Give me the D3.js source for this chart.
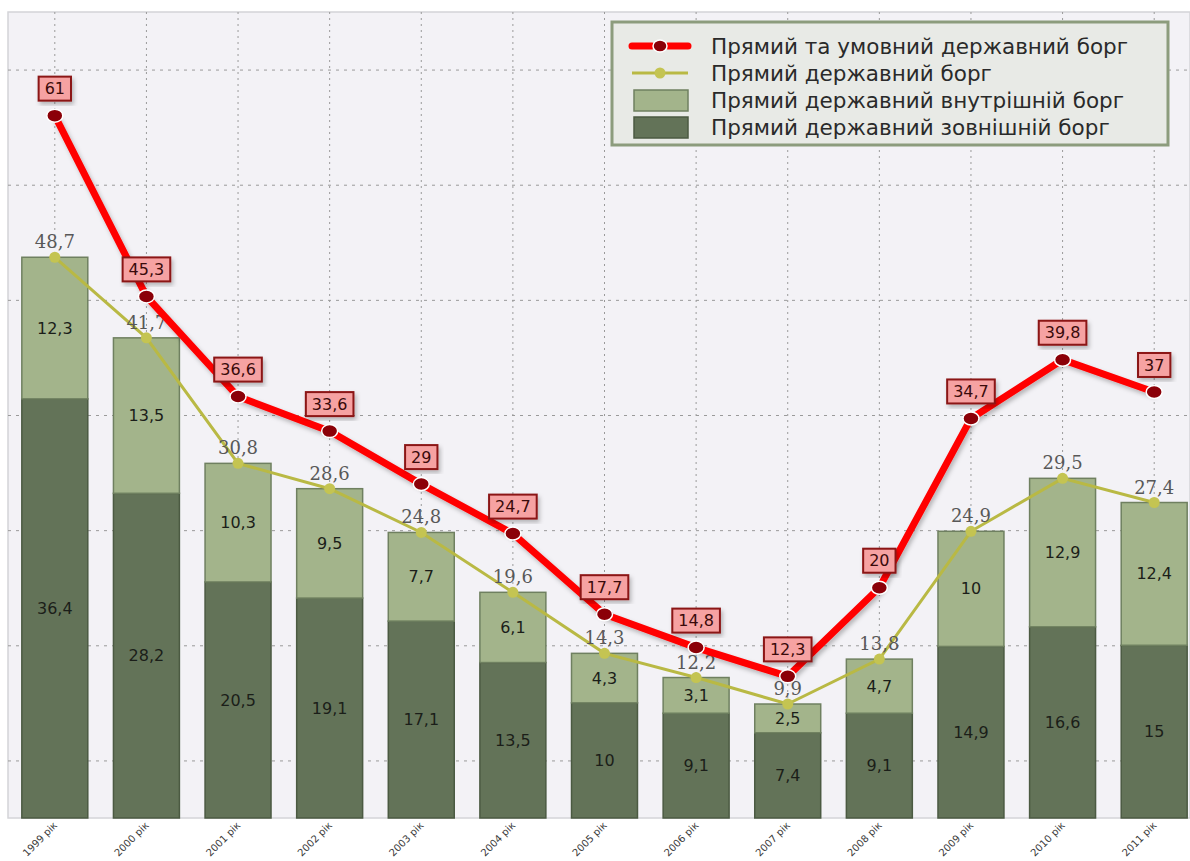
<!DOCTYPE html>
<html>
<head>
<meta charset="utf-8">
<script src="https://cdn.jsdelivr.net/npm/d3@7"></script>
<style>
  body { margin: 0; background: #fff; }
  svg { display: block; }
</style>
</head>
<body>
<div id="chart"></div>
<script>
const years = ['1999 рік', '2000 рік', '2001 рік', '2002 рік', '2003 рік', '2004 рік', '2005 рік',
  '2006 рік', '2007 рік', '2008 рік', '2009 рік', '2010 рік', '2011 рік'];
const externalDebt = [36.4, 28.2, 20.5, 19.1, 17.1, 13.5, 10, 9.1, 7.4, 9.1, 14.9, 16.6, 15];
const internalDebt = [12.3, 13.5, 10.3, 9.5, 7.7, 6.1, 4.3, 3.1, 2.5, 4.7, 10, 12.9, 12.4];
const directDebt = [48.7, 41.7, 30.8, 28.6, 24.8, 19.6, 14.3, 12.2, 9.9, 13.8, 24.9, 29.5, 27.4];
const totalDebt = [61, 45.3, 36.6, 33.6, 29, 24.7, 17.7, 14.8, 12.3, 20, 34.7, 39.8, 37];
const gridValues = [5, 15, 25, 35, 45, 55, 65];
const legendLabels = ['Прямий та умовний державний борг', 'Прямий державний борг',
  'Прямий державний внутрішній борг', 'Прямий державний зовнішній борг'];

const W = 1190, H = 861;
const plot = { left: 8, top: 12, right: 1190, bottom: 818 };
const sans = 'DejaVu Sans, Verdana, sans-serif';
const fmt = (v) => String(v).replace('.', ',');

const svg = d3.select('#chart').append('svg')
  .attr('width', W)
  .attr('height', H);

const x = d3.scaleBand()
  .domain(years)
  .range([9, 1200])
  .paddingInner(0.28)
  .paddingOuter(0.14);

const y = d3.scaleLinear()
  .domain([0, 70])
  .range([plot.bottom, plot.top]);

const cx = (i) => x(years[i]) + x.bandwidth() / 2;

// plot background
svg.append('rect')
  .attr('x', plot.left)
  .attr('y', plot.top)
  .attr('width', plot.right - plot.left)
  .attr('height', plot.bottom - plot.top)
  .attr('fill', '#f3f2f6')
  .attr('stroke', '#d4d4d8')
  .attr('stroke-width', 1.5);

// horizontal grid
const yGrid = svg.append('g')
  .attr('transform', `translate(${plot.left},0)`)
  .call(d3.axisLeft(y).tickValues(gridValues).tickSize(-(plot.right - plot.left)).tickFormat(''));
yGrid.select('.domain').remove();
yGrid.selectAll('line')
  .attr('stroke', '#9a9a9a')
  .attr('stroke-dasharray', '3,5');

// vertical grid
svg.append('g')
  .selectAll('line')
  .data(years)
  .join('line')
  .attr('x1', (d, i) => cx(i))
  .attr('x2', (d, i) => cx(i))
  .attr('y1', plot.top)
  .attr('y2', plot.bottom)
  .attr('stroke', '#9a9a9a')
  .attr('stroke-dasharray', '2,4');

// stacked bars
const bars = svg.append('g');
bars.selectAll('rect.ext')
  .data(externalDebt)
  .join('rect')
  .attr('class', 'ext')
  .attr('x', (d, i) => x(years[i]))
  .attr('width', x.bandwidth())
  .attr('y', (d) => y(d))
  .attr('height', (d) => y(0) - y(d))
  .attr('fill', '#637358')
  .attr('stroke', '#4b5a42')
  .attr('stroke-width', 1.5);

bars.selectAll('rect.int')
  .data(internalDebt)
  .join('rect')
  .attr('class', 'int')
  .attr('x', (d, i) => x(years[i]))
  .attr('width', x.bandwidth())
  .attr('y', (d, i) => y(externalDebt[i] + d))
  .attr('height', (d, i) => y(externalDebt[i]) - y(externalDebt[i] + d))
  .attr('fill', '#a3b48b')
  .attr('stroke', '#6f8060')
  .attr('stroke-width', 1.5);

bars.selectAll('text.ext')
  .data(externalDebt)
  .join('text')
  .attr('class', 'ext')
  .attr('x', (d, i) => cx(i))
  .attr('y', (d) => y(d / 2))
  .attr('dy', '0.35em')
  .attr('text-anchor', 'middle')
  .attr('font-family', sans)
  .attr('font-size', 16)
  .attr('fill', '#1b1e19')
  .text(fmt);

bars.selectAll('text.int')
  .data(internalDebt)
  .join('text')
  .attr('class', 'int')
  .attr('x', (d, i) => cx(i))
  .attr('y', (d, i) => y(externalDebt[i] + d / 2))
  .attr('dy', '0.35em')
  .attr('text-anchor', 'middle')
  .attr('font-family', sans)
  .attr('font-size', 16)
  .attr('fill', '#1b1e19')
  .text(fmt);

// x axis labels
const xAxis = svg.append('g')
  .attr('transform', `translate(0,${plot.bottom})`)
  .call(d3.axisBottom(x).tickSize(0));
xAxis.select('.domain').remove();
xAxis.selectAll('text')
  .attr('font-family', sans)
  .attr('font-size', 10)
  .attr('fill', '#3a3a3a')
  .attr('text-anchor', 'end')
  .attr('transform', 'translate(-4,1) rotate(-45)')
  .attr('dy', '0.7em');

// direct debt line (olive)
const olive = d3.line().x((d, i) => cx(i)).y((d) => y(d));
svg.append('path')
  .datum(directDebt)
  .attr('d', olive)
  .attr('fill', 'none')
  .attr('stroke', '#b9b944')
  .attr('stroke-width', 3);

svg.append('g')
  .selectAll('circle')
  .data(directDebt)
  .join('circle')
  .attr('cx', (d, i) => cx(i))
  .attr('cy', (d) => y(d))
  .attr('r', 5.5)
  .attr('fill', '#c4c452');

svg.append('g')
  .selectAll('text')
  .data(directDebt)
  .join('text')
  .attr('x', (d, i) => cx(i))
  .attr('y', (d) => y(d) - 9)
  .attr('text-anchor', 'middle')
  .attr('font-family', 'DejaVu Serif, Times New Roman, serif')
  .attr('font-size', 18)
  .attr('fill', '#585858')
  .text(fmt);

// total debt line (red)
const defs = svg.append('defs');
defs.append('filter')
  .attr('id', 'shadow')
  .attr('x', '-20%').attr('y', '-20%').attr('width', '140%').attr('height', '140%')
  .append('feDropShadow')
  .attr('dx', 2).attr('dy', 3).attr('stdDeviation', 2)
  .attr('flood-color', '#000').attr('flood-opacity', 0.25);

const red = d3.line().x((d, i) => cx(i)).y((d) => y(d));
svg.append('path')
  .datum(totalDebt)
  .attr('d', red)
  .attr('fill', 'none')
  .attr('stroke', '#ff0000')
  .attr('stroke-width', 7)
  .attr('filter', 'url(#shadow)');

svg.append('g')
  .selectAll('ellipse')
  .data(totalDebt)
  .join('ellipse')
  .attr('cx', (d, i) => cx(i))
  .attr('cy', (d) => y(d))
  .attr('rx', 8)
  .attr('ry', 6.5)
  .attr('fill', '#8b0008')
  .attr('stroke', '#fff')
  .attr('stroke-width', 1.5);

const redLabels = svg.append('g')
  .selectAll('g')
  .data(totalDebt)
  .join('g')
  .attr('transform', (d, i) => `translate(${cx(i)},${y(d) - 27})`);

redLabels.append('text')
  .attr('text-anchor', 'middle')
  .attr('dy', '0.36em')
  .attr('font-family', sans)
  .attr('font-size', 16)
  .attr('fill', '#3a0a0a')
  .text(fmt);

redLabels.insert('rect', 'text')
  .each(function () {
    const t = this.parentNode.querySelector('text').getBBox();
    d3.select(this)
      .attr('x', t.x - 6)
      .attr('y', -12)
      .attr('width', t.width + 12)
      .attr('height', 24);
  })
  .attr('fill', '#f6a2a2')
  .attr('stroke', '#8b1414')
  .attr('stroke-width', 2)
  .attr('filter', 'url(#shadow)');

// legend
const legend = svg.append('g').attr('transform', 'translate(612,22)');
legend.append('rect')
  .attr('width', 556)
  .attr('height', 123)
  .attr('fill', '#e8eae6')
  .attr('stroke', '#8c9c7d')
  .attr('stroke-width', 3);

const rowY = (i) => 24 + i * 27;
legend.selectAll('text')
  .data(legendLabels)
  .join('text')
  .attr('x', 99)
  .attr('y', (d, i) => rowY(i))
  .attr('dy', '0.36em')
  .attr('font-family', sans)
  .attr('font-size', 21.5)
  .attr('fill', '#2a2a2a')
  .text((d) => d);

legend.append('line')
  .attr('x1', 20).attr('x2', 76)
  .attr('y1', rowY(0)).attr('y2', rowY(0))
  .attr('stroke', '#ff0000').attr('stroke-width', 7)
  .attr('stroke-linecap', 'round')
  .attr('stroke-dasharray', '20,16');
legend.append('ellipse')
  .attr('cx', 48).attr('cy', rowY(0))
  .attr('rx', 7).attr('ry', 6)
  .attr('fill', '#8b0008').attr('stroke', '#fff').attr('stroke-width', 1.5);

legend.append('line')
  .attr('x1', 20).attr('x2', 76)
  .attr('y1', rowY(1)).attr('y2', rowY(1))
  .attr('stroke', '#b9b944').attr('stroke-width', 3);
legend.append('circle')
  .attr('cx', 48).attr('cy', rowY(1)).attr('r', 5.5)
  .attr('fill', '#c4c452');

legend.append('rect')
  .attr('x', 22).attr('y', rowY(2) - 10)
  .attr('width', 54).attr('height', 21)
  .attr('fill', '#a3b48b').attr('stroke', '#6f8060').attr('stroke-width', 1.5);
legend.append('rect')
  .attr('x', 22).attr('y', rowY(3) - 10)
  .attr('width', 54).attr('height', 21)
  .attr('fill', '#637358').attr('stroke', '#4b5a42').attr('stroke-width', 1.5);
</script>
</body>
</html>
